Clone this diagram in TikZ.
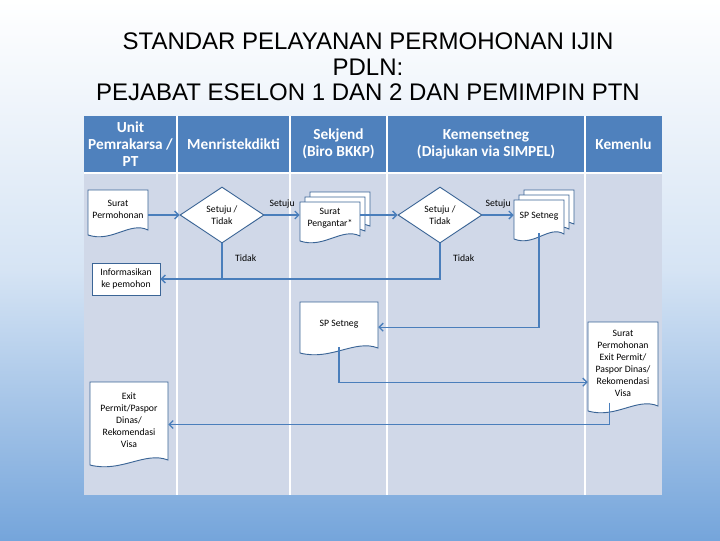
\documentclass[tikz,border=0pt]{standalone}
\usepackage{fontspec}
\setmainfont{Carlito}
\newfontfamily\titlefont{Liberation Sans}
\usetikzlibrary{shapes.geometric,arrows.meta}
\definecolor{hdr}{HTML}{4F81BD}
\definecolor{bodyc}{HTML}{D0D8E8}
\definecolor{lnc}{HTML}{4A7EBB}
\definecolor{bgb}{HTML}{75A5DB}
\tikzset{
  docline/.style={draw=lnc!80!black,line width=0.7pt,fill=white},
  doctext/.style={inner sep=0pt,align=center,font=\fontsize{7.3}{9}\selectfont},
  conn/.style={draw=lnc,line width=1pt},
  arr/.style={conn,-{Straight Barb[length=3pt,width=6pt]}},
  hdrtext/.style={text=white,font=\bfseries\fontsize{11.5}{13}\selectfont,align=center},
  lbl/.style={font=\fontsize{7.3}{9}\selectfont},
  dec/.style={diamond,aspect=1.5,draw=lnc!80!black,line width=0.7pt,fill=white,inner sep=0pt,minimum width=63pt,minimum height=42pt,font=\fontsize{7.3}{9}\selectfont,align=center}
}
\newcommand\docpath[4]{%
  \path[docline] (#1,#2) -- (#3,#2) -- (#3,{#4-5}) .. controls ({#3-0.3*(#3-#1)},{#4-14}) and ({#1+0.4*(#3-#1)},{#4+8}) .. (#1,{#4}) -- cycle;}
\newcommand\docnode[6]{%
  \docpath{#2}{#3}{#4}{#5}%
  \node[doctext,minimum width={(#4-#2)*0.75pt},minimum height={(#5-#3-6)*0.75pt}] (#1) at ({(#2+#4)/2},{(#3+#5-6)/2}) {#6};}
\newcommand\stacknode[6]{%
  \docpath{#2+10}{#3-10}{#4+10}{#5-10}%
  \docpath{#2+5}{#3-5}{#4+5}{#5-5}%
  \docnode{#1}{#2}{#3}{#4}{#5}{#6}}
\begin{document}
\begin{tikzpicture}[x=0.75pt,y=-0.75pt]
\useasboundingbox (0,0) rectangle (720,540);
\shade[top color=white,bottom color=bgb,middle color=white!70!bgb] (0,0) rectangle (720,540);
\node[font=\titlefont\fontsize{18}{19}\selectfont,align=center] (title) at (368,67) {STANDAR PELAYANAN PERMOHONAN IJIN\\PDLN:\\PEJABAT ESELON 1 DAN 2 DAN PEMIMPIN PTN};
% table
\fill[bodyc] (84,116) rectangle (662,495);
\fill[hdr] (84,116) rectangle (662,172);
\foreach \xx in {177,290,387,585} \draw[white,line width=1pt] (\xx,116) -- (\xx,495);
\draw[white,line width=1.5pt] (84,173) -- (662,173);
\node[hdrtext] (h1) at (130.5,144) {Unit\\Pemrakarsa /\\PT};
\node[hdrtext] (h2) at (233.5,144) {Menristekdikti};
\node[hdrtext] (h3) at (338.5,144) {Sekjend\\(Biro BKKP)};
\node[hdrtext] (h4) at (486,144) {Kemensetneg\\(Diajukan via SIMPEL)};
\node[hdrtext] (h5) at (623.5,144) {Kemenlu};
% nodes
\docnode{sp}{88}{190}{148}{235}{Surat\\Permohonan}
\node[dec] (d1) at (222,215) {Setuju /\\Tidak};
\stacknode{peng}{300}{202}{360}{241}{Surat\\Pengantar*}
\node[dec] (d2) at (440,215) {Setuju /\\Tidak};
\stacknode{spset}{514}{200}{564}{239}{SP Setneg}
\node[draw=lnc!80!black,line width=0.7pt,fill=white,doctext,minimum width=51pt,minimum height=24pt] (inf) at (126,279) {Informasikan\\ke pemohon};
\docnode{sp2}{300}{302}{378}{353}{SP Setneg}
\docnode{ex}{588}{322}{658}{411}{Surat\\Permohonan\\Exit Permit/\\Paspor Dinas/\\Rekomendasi\\Visa}
\docnode{ep}{90}{382}{168}{465}{Exit\\Permit/Paspor\\Dinas/\\Rekomendasi\\Visa}
% connectors
\draw[arr] (sp.east |- d1.west) -- (d1.west);
\draw[arr] (d1.east) -- (peng.west |- d1.east) node[lbl,midway,above=1pt] {Setuju};
\draw[arr] (peng.east |- d2.west) -- (d2.west);
\draw[arr] (d2.east) -- (spset.west |- d2.east) node[lbl,midway,above=1pt] {Setuju};
\draw[conn] (d1.south) -- (d1.south |- inf.east) node[lbl,pos=0.4,right=6pt] {Tidak};
\draw[arr] (d2.south) |- (inf.east) node[lbl,pos=0.2,right=6pt] {Tidak};
\draw[arr] (spset.south) |- ([yshift=-2pt]sp2.east);
\draw[arr] (sp2.south) |- ([yshift=-14pt]ex.west);
\draw[arr] ([xshift=-10pt,yshift=2pt]ex.south) |- ([yshift=-3pt]ep.east);
\end{tikzpicture}
\end{document}
